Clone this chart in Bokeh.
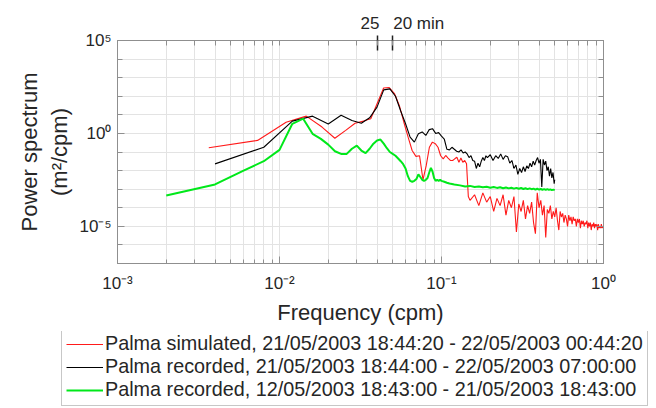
from bokeh.plotting import figure
from bokeh.layouts import column
from bokeh.models import Range1d, FixedTicker, LogAxis, Legend, LegendItem
from bokeh.embed import file_html
from bokeh.resources import INLINE

# ---------------- data ----------------
sim_freq = [0.00366, 0.00732, 0.01098, 0.01464, 0.0183, 0.02196, 0.02562, 0.02928, 0.03294, 0.0366,
            0.04026, 0.04392, 0.04758, 0.05124, 0.0549, 0.05856, 0.06222, 0.06588, 0.06954, 0.0732,
            0.07686, 0.08052, 0.08418, 0.08784, 0.0915, 0.09516, 0.09882, 0.10248, 0.10614, 0.1098,
            0.11346, 0.11712, 0.12078, 0.12444, 0.1281, 0.13176, 0.13542, 0.13908, 0.14274, 0.1464,
            0.15, 0.16, 0.17, 0.18, 0.19, 0.20, 0.21, 0.22, 0.23, 0.24, 0.25, 0.26, 0.27, 0.28, 0.29,
            0.30, 0.31, 0.32, 0.33, 0.34, 0.35, 0.36, 0.37, 0.38, 0.39, 0.40, 0.41, 0.42, 0.43, 0.44,
            0.45, 0.46, 0.47, 0.48, 0.49, 0.50, 0.51, 0.52, 0.53, 0.54, 0.55, 0.56, 0.57, 0.58, 0.59,
            0.60, 0.61, 0.62, 0.63, 0.64, 0.65, 0.66, 0.67, 0.68, 0.69, 0.70, 0.71, 0.72, 0.73, 0.74,
            0.75, 0.76, 0.77, 0.78, 0.79, 0.80, 0.81, 0.82, 0.83, 0.84, 0.85, 0.86, 0.87, 0.88, 0.89,
            0.90, 0.91, 0.92, 0.93, 0.94, 0.95, 0.96, 0.97, 0.98, 0.99, 1.00]
sim_power = [0.17, 0.42, 4.0, 8.5, 2.2, 0.55, 1.45, 3.5, 4.6, 6.2,
             45, 280, 295, 140, 32, 4.0, 0.63, 0.12, 0.058, 0.063,
             0.0032, 0.019, 0.18, 0.34, 0.28, 0.18, 0.063, 0.043, 0.065, 0.047,
             0.035, 0.035, 0.043, 0.052, 0.028, 0.047, 0.028, 0.035, 0.023, 4.0e-4,
             2.5e-4, 5.0e-4, 1.3e-4, 6.3e-4, 2.0e-4, 4.0e-4, 6.3e-5, 3.2e-4, 1.3e-4, 5.0e-4, 4.0e-5,
             2.5e-4, 1.0e-4, 4.0e-4, 5.0e-6, 1.6e-4, 6.3e-5, 2.5e-4, 2.5e-5, 1.3e-4, 5.0e-5,
             2.0e-4, 1.6e-5, 4.0e-6, 6.3e-4, 1.0e-4, 2.5e-4, 4.0e-5, 1.3e-4, 2.5e-6,
             8.0e-5, 5.0e-5, 1.3e-4, 2.5e-5, 6.3e-5, 3.2e-5, 1.0e-4, 2.0e-5, 6.3e-6, 6.3e-5,
             3.2e-5, 5.0e-5, 1.6e-5, 4.0e-5, 2.5e-5, 1.0e-5, 4.0e-5, 2.0e-5, 3.2e-5, 1.3e-5,
             3.2e-5, 2.0e-5, 2.5e-5, 1.0e-5, 2.5e-5, 1.6e-5, 2.5e-5, 8.0e-6, 2.0e-5, 1.3e-5,
             2.0e-5, 1.0e-5, 1.6e-5, 1.3e-5, 2.0e-5, 8.0e-6, 1.6e-5, 1.0e-5, 1.6e-5, 6.3e-6,
             1.3e-5, 1.0e-5, 1.6e-5, 8.0e-6, 1.3e-5, 1.0e-5, 1.3e-5, 6.3e-6, 1.3e-5, 8.0e-6,
             1.0e-5, 8.0e-6, 1.3e-5, 8.0e-6, 1.0e-5, 8.0e-6]

rec_short_freq = [0.004, 0.008, 0.012, 0.016, 0.020, 0.024, 0.028, 0.032, 0.036, 0.040,
                  0.044, 0.048, 0.052, 0.056, 0.060, 0.064, 0.068, 0.072, 0.076, 0.080,
                  0.084, 0.088, 0.092, 0.096, 0.100, 0.104, 0.108, 0.112, 0.116, 0.120,
                  0.124, 0.128, 0.132, 0.136, 0.140, 0.144, 0.148, 0.152, 0.156, 0.160,
                  0.164, 0.168, 0.172, 0.176, 0.180, 0.184, 0.188, 0.192, 0.200, 0.208,
                  0.216, 0.224, 0.232, 0.240, 0.248, 0.256, 0.264, 0.272, 0.280, 0.288,
                  0.296, 0.304, 0.312, 0.320, 0.328, 0.336, 0.344, 0.352, 0.360, 0.368,
                  0.376, 0.384, 0.392, 0.400, 0.408, 0.416, 0.424, 0.432, 0.440, 0.448,
                  0.456, 0.464, 0.472, 0.480, 0.488, 0.496, 0.500]
rec_short_power = [0.023, 0.18, 4.6, 8.5, 3.2, 9.5, 4.9, 3.5, 6.9, 26,
                   220, 250, 100, 16, 3.3, 0.63, 0.34, 0.95, 1.2, 0.78,
                   1.6, 1.8, 1.0, 1.1, 0.71, 0.5, 0.14, 0.13, 0.18, 0.14,
                   0.11, 0.1, 0.13, 0.089, 0.1, 0.079, 0.05, 0.063, 0.035, 0.032,
                   0.013, 0.025, 0.016, 0.032, 0.05, 0.035, 0.063, 0.05, 0.071, 0.035,
                   0.063, 0.045, 0.079, 0.04, 0.063, 0.056, 0.025, 0.035, 0.013, 0.02,
                   0.0063, 0.013, 0.0079, 0.016, 0.0089, 0.018, 0.013, 0.025, 0.016, 0.032,
                   0.02, 0.035, 0.05, 0.025, 0.04, 0.0013, 0.04, 0.02, 0.032, 0.01,
                   0.016, 0.005, 0.013, 0.004, 0.0079, 0.002, 0.0032]

rec_long_freq = [0.002, 0.004, 0.006, 0.008, 0.010, 0.012, 0.014, 0.016, 0.018, 0.020,
                 0.022, 0.024, 0.026, 0.028, 0.030, 0.032, 0.034, 0.036, 0.038, 0.040,
                 0.042, 0.044, 0.046, 0.048, 0.050, 0.052, 0.054, 0.056, 0.058, 0.060,
                 0.062, 0.064, 0.066, 0.068, 0.070, 0.072, 0.074, 0.076, 0.078, 0.080,
                 0.082, 0.084, 0.086, 0.088, 0.090, 0.092, 0.094, 0.096, 0.098, 0.100,
                 0.104, 0.108, 0.112, 0.116, 0.120, 0.130, 0.140, 0.150, 0.160, 0.170,
                 0.180, 0.190, 0.200, 0.210, 0.220, 0.230, 0.240, 0.250, 0.260, 0.270,
                 0.280, 0.290, 0.300, 0.310, 0.320, 0.330, 0.340, 0.350, 0.360, 0.370,
                 0.380, 0.390, 0.400, 0.410, 0.420, 0.430, 0.440, 0.450, 0.460, 0.470,
                 0.480, 0.490, 0.500]
rec_long_power = [4.6e-4, 1.8e-3, 0.01, 0.032, 0.13, 3.3, 6.2, 0.95, 0.51, 0.25,
                  0.11, 0.079, 0.079, 0.15, 0.22, 0.12, 0.087, 0.15, 0.28, 0.42,
                  0.47, 0.28, 0.16, 0.1, 0.079, 0.063, 0.045, 0.032, 0.022, 0.013,
                  0.005, 0.0028, 0.0025, 0.0028, 0.0035, 0.0063, 0.0045, 0.0032, 0.0028, 0.0032,
                  0.004, 0.0079, 0.014, 0.0089, 0.004, 0.0028, 0.0032, 0.0028, 0.0032, 0.0028,
                  0.0025, 0.0022, 0.002, 0.0019, 0.0018, 0.0016, 0.0014, 0.0015, 0.0013, 0.00138,
                  0.00126, 0.00135, 0.0012, 0.00132, 0.00117, 0.00126, 0.00112, 0.00123, 0.0011, 0.0012,
                  0.00107, 0.00117, 0.00105, 0.00115, 0.00102, 0.00112, 0.001, 0.0011, 0.001, 0.00107,
                  0.00095, 0.00105, 0.00095, 0.00102, 0.00093, 0.001, 0.00091, 0.001, 0.00091, 0.00098,
                  0.00089, 0.00095, 0.00089]

series_labels = ["Palma simulated, 21/05/2003 18:44:20 - 22/05/2003 00:44:20",
                 "Palma recorded, 21/05/2003 18:44:00 - 22/05/2003 07:00:00",
                 "Palma recorded, 12/05/2003 18:43:00 - 21/05/2003 18:43:00"]

x_major = [1e-3, 1e-2, 1e-1, 1e0]
x_tick_labels = ["10\u207b\u00b3", "10\u207b\u00b2", "10\u207b\u00b9", "10\u2070"]
y_major = [1e-5, 1e0, 1e5]
y_tick_labels = ["10\u207b\u2075", "10\u2070", "10\u2075"]
period_freq = [0.04, 0.05]
period_labels = ["25", "20 min"]

series_colors = ["#ff1a1a", "#000000", "#00e81a"]
series_widths = [1.1, 1.1, 2]

# ---------------- main figure ----------------
FONT = "Liberation Sans"
GRAY = "#8f8f8f"
TXT = "#262626"
NBSP = "\u00a0"

x_minor = [k * 10.0 ** e for e in (-3, -2, -1) for k in range(2, 10)]
y_minor = [10.0 ** e for e in range(-7, 6) if e not in (-5, 0, 5)]

p = figure(width=656, height=331, x_axis_type="log", y_axis_type="log",
           x_range=Range1d(1e-3, 1.0), y_range=Range1d(1e-7, 1e5),
           output_backend="svg", toolbar_location=None,
           min_border_left=117, min_border_right=53, min_border_top=40, min_border_bottom=68)
p.frame_align = False

p.outline_line_color = GRAY
p.background_fill_color = "white"

xa = p.xaxis[0]
xa.ticker = FixedTicker(ticks=x_major, minor_ticks=x_minor)
xa.major_label_overrides = {v: s for v, s in zip(x_major, x_tick_labels)}
xa.axis_label = "Frequency (cpm)"
ya = p.yaxis[0]
ya.ticker = FixedTicker(ticks=y_major, minor_ticks=y_minor)
ya.major_label_overrides = {v: s for v, s in zip(y_major, y_tick_labels)}
ya.axis_label = "Power spectrum\n(m\u00b2/cpm)"

for ax in (xa, ya):
    ax.axis_line_color = GRAY
    ax.major_tick_line_color = GRAY
    ax.minor_tick_line_color = GRAY
    ax.major_tick_in = 7
    ax.major_tick_out = 0
    ax.minor_tick_in = 4
    ax.minor_tick_out = 0
    ax.major_label_text_font = FONT
    ax.major_label_text_font_size = "17px"
    ax.major_label_text_color = TXT
    ax.axis_label_text_font = FONT
    ax.axis_label_text_font_size = "22px"
    ax.axis_label_text_font_style = "normal"
    ax.axis_label_text_color = TXT
ya.minor_tick_in = 5
xa.major_label_standoff = 10
xa.axis_label_standoff = 4
ya.major_label_standoff = 6
ya.axis_label_standoff = 5

ra = LogAxis(ticker=FixedTicker(ticks=y_major, minor_ticks=y_minor),
             major_label_text_color=None, axis_line_color=GRAY,
             major_tick_line_color=GRAY, minor_tick_line_color=GRAY,
             major_tick_in=7, major_tick_out=0, minor_tick_in=5, minor_tick_out=0)
p.add_layout(ra, "right")

period_text = [period_labels[0] + NBSP * 3, NBSP * 11 + period_labels[1]]
ta = LogAxis(ticker=FixedTicker(ticks=period_freq, minor_ticks=x_minor + x_major),
             major_label_overrides={v: s for v, s in zip(period_freq, period_text)},
             major_label_text_font=FONT, major_label_text_font_size="17px",
             major_label_text_color=TXT, major_label_standoff=3,
             axis_line_color=GRAY,
             major_tick_line_color="#222222", major_tick_line_width=1.5,
             minor_tick_line_color=GRAY,
             major_tick_in=10, major_tick_out=5, minor_tick_in=5, minor_tick_out=0)
p.add_layout(ta, "above")

for g in (p.xgrid[0], p.ygrid[0]):
    g.grid_line_color = "#e3e3e3"
    g.minor_grid_line_color = "#e3e3e3"
    g.grid_line_width = 1

series = [(sim_freq, sim_power), (rec_short_freq, rec_short_power), (rec_long_freq, rec_long_power)]
for (fx, py), c, w in zip(series, series_colors, series_widths):
    p.line(fx, py, line_color=c, line_width=w)

# ---------------- legend strip (own small figure below the plot) ----------------
q = figure(width=656, height=77, x_range=Range1d(0, 1), y_range=Range1d(0, 1),
           output_backend="svg", toolbar_location=None,
           x_axis_location=None, y_axis_location=None,
           min_border=0, min_border_left=0, min_border_right=0,
           min_border_top=0, min_border_bottom=0)
q.frame_align = False
q.outline_line_color = None
q.grid.visible = False
items = []
for (fx, py), c, w, lab in zip(series, series_colors, series_widths, series_labels):
    r = q.line(fx, py, line_color=c, line_width=w)
    r.visible = False
    items.append(LegendItem(label=lab, renderers=[r]))

legend = Legend(items=items, location=(61, 2), orientation="vertical",
                label_text_font=FONT, label_text_font_size="19.8px", label_text_color=TXT,
                glyph_width=37, glyph_height=22, label_height=22, label_standoff=2,
                spacing=0, padding=4, margin=0,
                border_line_color=GRAY, border_line_width=1,
                background_fill_color="white", background_fill_alpha=1.0)
q.add_layout(legend, "center")

layout = column(p, q, spacing=0)
open("out.html", "w").write(file_html(layout, INLINE))
